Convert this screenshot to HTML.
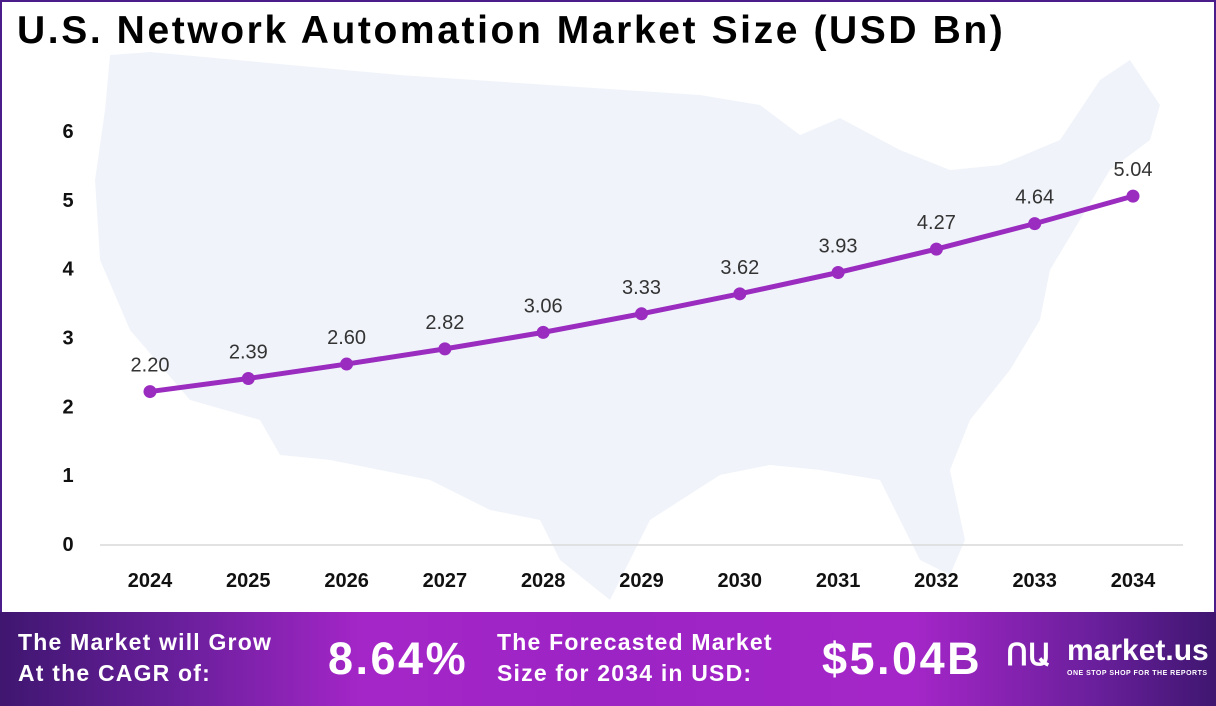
<!DOCTYPE html>
<html><head><meta charset="utf-8"><style>
*{margin:0;padding:0;box-sizing:border-box}
body{width:1216px;height:706px;overflow:hidden;background:#fff;font-family:"Liberation Sans",sans-serif;position:relative}
#frame{position:absolute;left:0;top:0;width:1216px;height:706px;border:2px solid #4b1d8a;border-bottom:none}
#title{position:absolute;left:17px;top:9px;font-size:39px;font-weight:bold;color:#000;letter-spacing:2.6px}
#footer{position:absolute;left:0;top:612px;width:1216px;height:94px;background:linear-gradient(90deg,#3f1670 0%,#6a1f9c 15%,#a526c8 30%,#9c24c4 50%,#a526c8 75%,#6a1f9c 90%,#3f1670 100%);color:#fff;font-weight:bold}
.ft{position:absolute;font-size:23px;line-height:31px;letter-spacing:1.2px}
.big{position:absolute;font-size:45px;top:21px;letter-spacing:2.5px}
</style></head><body>
<div id="frame"></div>
<div id="title">U.S. Network Automation Market Size (USD Bn)</div>
<svg id="chart" width="1216" height="612" style="position:absolute;left:0;top:0">
<path fill="#f0f4fa" d="M110,55 L150,52 L400,75 L700,95 L760,105 L800,135 L840,118 L900,150 L950,170 L1000,165 L1060,140 L1100,80 L1130,60 L1160,105 L1150,140 L1110,170 L1080,220 L1050,270 L1040,320 L1010,370 L970,420 L950,470 L965,540 L950,575 L920,560 L880,480 L820,470 L770,465 L720,475 L650,520 L610,600 L560,560 L540,520 L490,510 L430,480 L380,470 L330,460 L280,455 L260,420 L190,400 L130,330 L100,260 L95,180 L105,110 Z"/>
<g id="axes"></g><g id="series"></g>
</svg>
<div id="footer">
<div class="ft" style="left:18px;top:15px">The Market will Grow<br>At the CAGR of:</div>
<div class="big" style="left:328px">8.64%</div>
<div class="ft" style="left:497px;top:15px">The Forecasted Market<br>Size for 2034 in USD:</div>
<div class="big" style="left:822px">$5.04B</div>
<div style="position:absolute;left:1006px;top:26px;font-size:30px">ՈԱ</div>
<div style="position:absolute;left:1067px;top:22px;font-size:30px">market.us</div>
<div style="position:absolute;left:1067px;top:58px;font-size:7px;letter-spacing:0.5px">ONE STOP SHOP FOR THE REPORTS</div>
</div>
<script>
const years=["2024","2025","2026","2027","2028","2029","2030","2031","2032","2033","2034"];
const values=[2.20,2.39,2.60,2.82,3.06,3.33,3.62,3.93,4.27,4.64,5.04];
const labels=["2.20","2.39","2.60","2.82","3.06","3.33","3.62","3.93","4.27","4.64","5.04"];
const yTicks=[0,1,2,3,4,5,6];
const NS="http://www.w3.org/2000/svg";
const x=i=>150+i*98.3, y=v=>543-v*68.83;
function mk(t,a,p){const e=document.createElementNS(NS,t);for(const k in a)e.setAttribute(k,a[k]);p.appendChild(e);return e;}
const ax=document.getElementById('axes'), se=document.getElementById('series');
const base=mk('line',{x1:100,x2:1183,y1:545,y2:545,stroke:'#d9d9d9','stroke-width':1.5},ax);


yTicks.forEach(t=>{const e=mk('text',{x:68,y:y(t)+8,'text-anchor':'middle','font-size':20,'font-weight':'bold',fill:'#111'},ax);e.textContent=t;

});
years.forEach((yr,i)=>{const e=mk('text',{x:x(i),y:587,'text-anchor':'middle','font-size':20,'font-weight':'bold',fill:'#111'},ax);e.textContent=yr;

});
const ln=mk('polyline',{points:values.map((v,i)=>x(i)+','+y(v)).join(' '),fill:'none',stroke:'#9b2cc0','stroke-width':5,'stroke-linejoin':'round'},se);


values.forEach((v,i)=>{const c=mk('circle',{cx:x(i),cy:y(v),r:6.5,fill:'#9b2cc0'},se);


const t=mk('text',{x:x(i),y:y(v)-20,'text-anchor':'middle','font-size':20,fill:'#333'},se);t.textContent=labels[i];

});
</script>
</body></html>
